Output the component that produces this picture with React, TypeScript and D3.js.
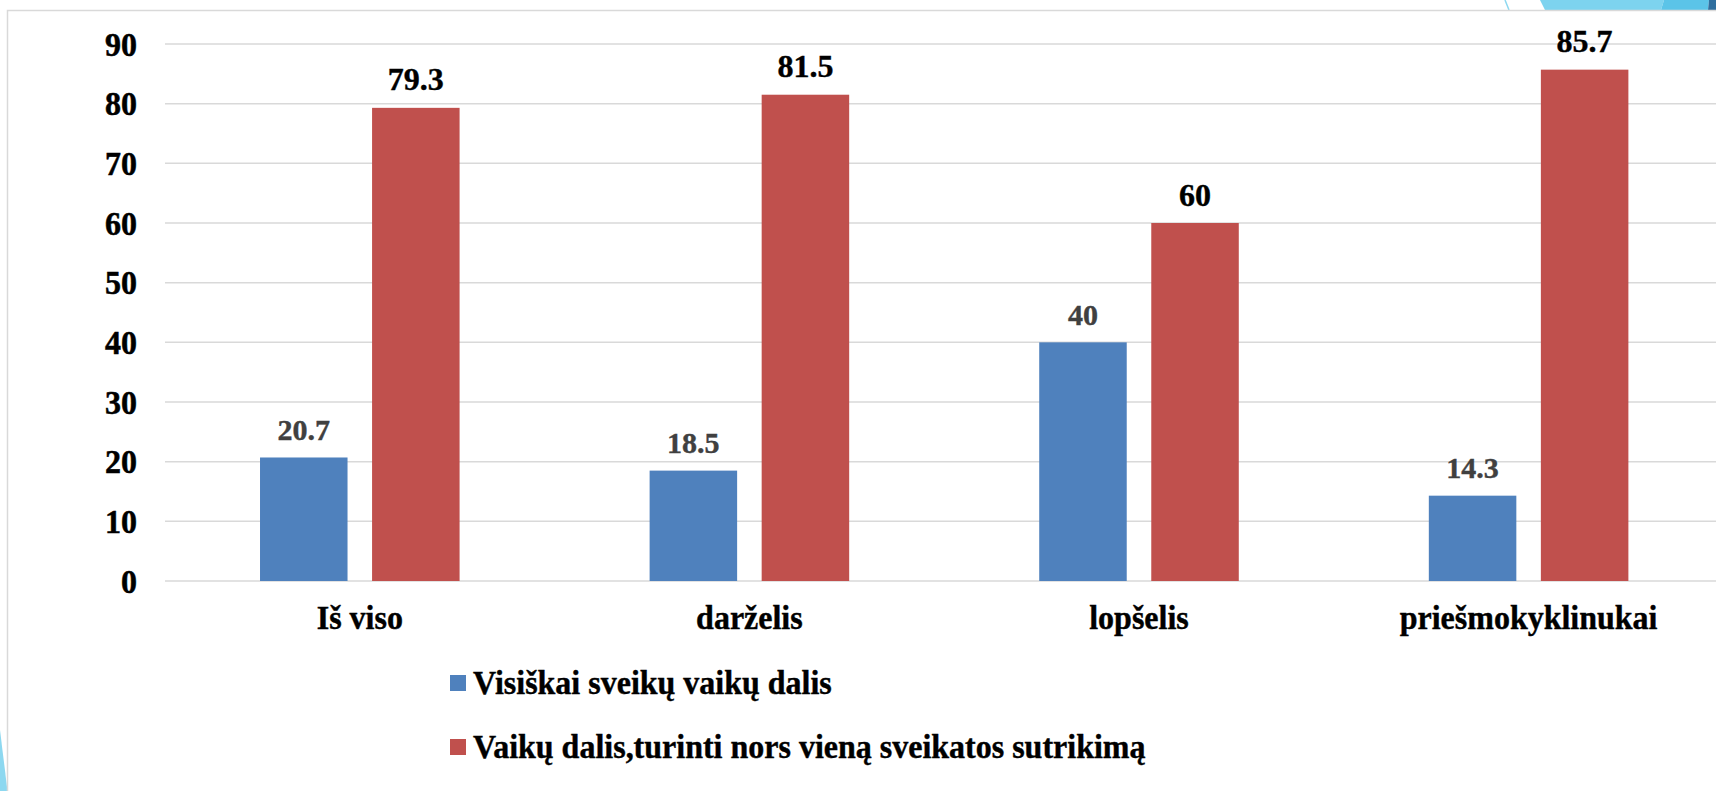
import React from "react";
import * as d3 from "d3";

const categories = ["Iš viso", "darželis", "lopšelis", "priešmokyklinukai"];
const seriesNames = [
  "Visiškai sveikų vaikų dalis",
  "Vaikų dalis,turinti nors vieną sveikatos sutrikimą",
];
const healthyValues = [20.7, 18.5, 40, 14.3];
const disorderValues = [79.3, 81.5, 60, 85.7];
const yTicks = [0, 10, 20, 30, 40, 50, 60, 70, 80, 90];
const seriesColors = ["#4F81BD", "#C0504D"];
const labelColors = ["#404040", "#000000"];

const W = 1716;
const H = 791;
const FONT = "'Liberation Serif', 'Times New Roman', serif";

export default function App() {
  const plotLeft = 165;
  const step = 389.6;
  const plotRight = plotLeft + step * categories.length;
  const y = d3.scaleLinear().domain([0, 90]).range([581, 44]);
  const x0 = d3.scaleBand<string>().domain(categories).range([plotLeft, plotRight]).padding(0);
  const x1 = d3
    .scaleBand<string>()
    .domain(["0", "1"])
    .range([0, x0.bandwidth()])
    .paddingInner(0.219)
    .paddingOuter(0.848);
  const seriesValues = [healthyValues, disorderValues];
  const SY = 1.08;

  return (
    <svg
      width={W}
      height={H}
      style={{ position: "absolute", left: 0, top: 0, background: "#fff" }}
      fontFamily={FONT}
    >
      <rect x={0} y={0} width={W} height={H} fill="#fff" />
      {/* slide decorations */}
      <polygon points="0,730 7.5,791 0,791" fill="#8DD8F0" />
      <line x1={1505} y1={0} x2={1509} y2={10} stroke="#8DD8F0" strokeWidth={1.5} />
      <polygon points="1540,0 1664,0 1661,10 1545,10" fill="#7DD3EF" />
      <polygon points="1664,0 1709,0 1708,10 1661,10" fill="#5BC4E8" />
      <polygon points="1709,0 1716,0 1716,10 1708,10" fill="#2F6F9F" />
      {/* chart frame */}
      <rect x={7.5} y={10.5} width={W + 20} height={H + 20} fill="#fff" stroke="#D9D9D9" strokeWidth={1.5} />

      {/* gridlines */}
      {yTicks.map((t) => (
        <line
          key={"g" + t}
          x1={plotLeft}
          x2={plotRight}
          y1={y(t)}
          y2={y(t)}
          stroke="#D9D9D9"
          strokeWidth={1.5}
        />
      ))}
      {/* y tick labels */}
      {yTicks.map((t) => (
        <g key={"t" + t} transform={`translate(137,${y(t) + 11.5}) scale(1,${SY})`}>
          <text
            x={0}
            y={0}
            textAnchor="end"
            fontSize={32}
            fontWeight="bold"
            fill="#000"
            stroke="#000"
            strokeWidth={0.5}
          >
            {t}
          </text>
        </g>
      ))}

      {/* bars */}
      {categories.map((c, i) => (
        <g key={c} transform={`translate(${x0(c)},0)`}>
          {seriesValues.map((vals, s) => {
            const bx = x1(String(s))!;
            const bw = x1.bandwidth();
            const v = vals[i];
            return (
              <g key={s}>
                <rect x={bx} y={y(v)} width={bw} height={y(0) - y(v)} fill={seriesColors[s]} />
                <text
                  x={bx + bw / 2}
                  y={y(v) - 17.5}
                  textAnchor="middle"
                  fontSize={s === 0 ? 30 : 32}
                  fontWeight="bold"
                  fill={labelColors[s]}
                  stroke={labelColors[s]}
                  strokeWidth={0.4}
                >
                  {v}
                </text>
              </g>
            );
          })}
          <g transform={`translate(${x0.bandwidth() / 2},629) scale(1,${SY})`}>
            <text
              x={0}
              y={0}
              textAnchor="middle"
              fontSize={32}
              fontWeight="bold"
              fill="#000"
              stroke="#000"
              strokeWidth={0.4}
            >
              {c}
            </text>
          </g>
        </g>
      ))}

      {/* legend */}
      {seriesNames.map((n, s) => (
        <g key={n} transform={`translate(450,${675 + s * 64})`}>
          <rect x={0} y={0} width={16} height={16} fill={seriesColors[s]} />
          <g transform={`translate(23,19) scale(1,1.05)`}>
            <text x={0} y={0} fontSize={32} fontWeight="bold" fill="#000" stroke="#000" strokeWidth={0.4}>
              {n}
            </text>
          </g>
        </g>
      ))}
    </svg>
  );
}
